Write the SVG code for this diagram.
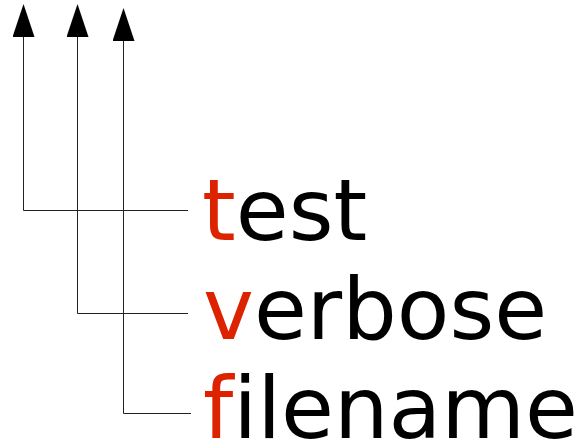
<svg xmlns="http://www.w3.org/2000/svg" width="579" height="444" viewBox="0 0 579 444">
<style>
.c{fill:none;stroke:#222;stroke-width:1}
.t{font-family:"DejaVu Sans",sans-serif;font-size:86px;fill:#000;font-variant-ligatures:none;font-feature-settings:"liga" 0}
.r{fill:#dd2200}
</style>
<defs>
<marker id="ah" markerUnits="userSpaceOnUse" viewBox="0 0 33 22" refX="0" refY="11" markerWidth="33" markerHeight="22" orient="auto">
<path d="M0,0 L33,11 L0,22 z" fill="#000"/>
</marker>
</defs>
<g id="connectors">
<path class="c" d="M188,210.5 H23.5 V37" marker-end="url(#ah)"/>
<path class="c" d="M188,313.5 H77.5 V37" marker-end="url(#ah)"/>
<path class="c" d="M191,413.5 H123.5 V41" marker-end="url(#ah)"/>
</g>
<g id="test"><text class="t" x="202" y="240"><tspan class="r">t</tspan>est</text></g>
<g id="verbose"><text class="t" x="203" y="339"><tspan class="r">v</tspan>erbose</text></g>
<g id="filename"><text class="t" x="203" y="438"><tspan class="r">f</tspan>ilename</text></g>
</svg>
